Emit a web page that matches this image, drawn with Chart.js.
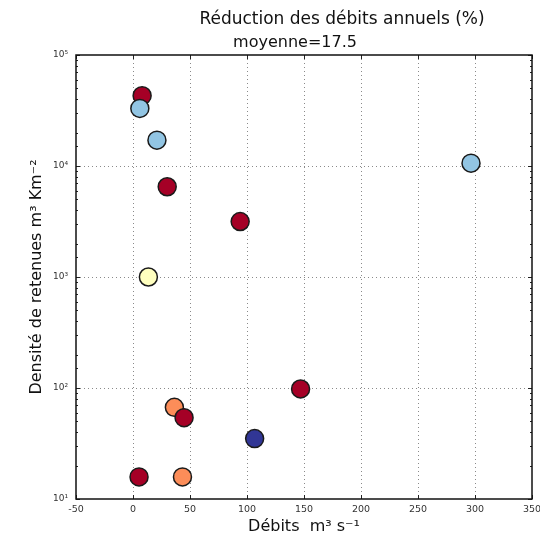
<!DOCTYPE html>
<html><head><meta charset="utf-8">
<script src="https://cdn.jsdelivr.net/npm/chart.js@4"></script>
<style>html,body{margin:0;padding:0;background:#fff}#c{display:block}</style>
</head><body>
<canvas id="c" width="540" height="538"></canvas>
<script>
// ---- data ----
const debits    = [8, 6, 21, 30, 94, 13.5, 296.5, 147, 36.3, 44.8, 106.7, 5.3, 43.4];
const densites  = [43000, 33000, 17100, 6500, 3160, 1000, 10600, 98, 67, 54, 35, 15.8, 15.8];
const xTickValues = [-50, 0, 50, 100, 150, 200, 250, 300, 350];
const yTickLabels = ['10\u00B9', '10\u00B2', '10\u00B3', '10\u2074', '10\u2075'];
const titleLines = ['Réduction des débits annuels (%)', 'moyenne=17.5'];
const xLabel = 'Débits  m\u00B3 s\u207B\u00B9';
const yLabel = 'Densité de retenues m\u00B3 Km\u207B\u00B2';

// ---- styles ----
const pointColors = ['#a50026', '#92c5e3', '#92c5e3', '#a50026', '#a50026', '#ffffbf', '#92c5e3',
                     '#a50026', '#fc8d59', '#a50026', '#313695', '#a50026', '#fc8d59'];
const FONT = '"DejaVu Sans", sans-serif';

function isMajor(v) {
  const l = Math.log10(v);
  return Math.abs(l - Math.round(l)) < 1e-9;
}

const decor = {
  id: 'decor',
  afterDraw(chart) {
    const ctx = chart.ctx, a = chart.chartArea;
    const xs = chart.scales.x, ys = chart.scales.y;
    ctx.save();
    // inward ticks
    ctx.strokeStyle = '#222';
    ctx.lineWidth = 1;
    ctx.beginPath();
    xs.ticks.forEach(t => {
      const px = Math.round(xs.getPixelForValue(t.value)) + 0.5;
      ctx.moveTo(px, a.bottom); ctx.lineTo(px, a.bottom - 4);
      ctx.moveTo(px, a.top); ctx.lineTo(px, a.top + 4);
    });
    ys.ticks.forEach(t => {
      const py = Math.round(ys.getPixelForValue(t.value)) + 0.5;
      const len = isMajor(t.value) ? 4 : 2;
      ctx.moveTo(a.left, py); ctx.lineTo(a.left + len, py);
      ctx.moveTo(a.right, py); ctx.lineTo(a.right - len, py);
    });
    ctx.stroke();
    // frame
    ctx.lineWidth = 1.5;
    ctx.strokeStyle = '#111';
    ctx.strokeRect(a.left, a.top, a.right - a.left, a.bottom - a.top);
    // titles
    ctx.fillStyle = '#111';
    ctx.textAlign = 'center';
    ctx.textBaseline = 'middle';
    ctx.font = '17px ' + FONT;
    ctx.fillText(titleLines[0], 342, 20);
    ctx.font = '16px ' + FONT;
    ctx.fillText(titleLines[1], 295, 43);
    // axis labels
    ctx.font = '16px ' + FONT;
    ctx.fillText(xLabel, 304, 527);
    ctx.translate(37, (a.top + a.bottom) / 2);
    ctx.rotate(-Math.PI / 2);
    ctx.fillText(yLabel, 0, 0);
    ctx.restore();
  }
};

new Chart(document.getElementById('c'), {
  type: 'scatter',
  data: {
    datasets: [{
      data: debits.map((d, i) => ({ x: d, y: densites[i] })),
      backgroundColor: pointColors,
      borderColor: '#1a1a1a',
      borderWidth: 1.5,
      pointRadius: 9,
      pointHoverRadius: 9
    }]
  },
  options: {
    responsive: false,
    animation: false,
    devicePixelRatio: 1,
    layout: { autoPadding: false, padding: { top: 55, right: 8, left: 0, bottom: 0 } },
    plugins: { legend: { display: false }, tooltip: { enabled: false }, title: { display: false } },
    scales: {
      x: {
        type: 'linear',
        min: xTickValues[0], max: xTickValues[xTickValues.length - 1],
        afterFit(s) { s.height = 39; s.paddingLeft = 0; s.paddingRight = 0; },
        afterBuildTicks(s) { s.ticks = xTickValues.map(v => ({ value: v })); },
        ticks: { color: '#333', font: { family: FONT, size: 9.5 }, padding: 5, maxRotation: 0, autoSkip: false,
                 callback: v => String(v) },
        grid: {
          drawTicks: false, tickLength: 0, lineWidth: 1,
          color: c => (c.tick && c.tick.value > xTickValues[0] && c.tick.value < xTickValues[xTickValues.length - 1]) ? '#8a8a8a' : 'rgba(0,0,0,0)'
        },
        border: { display: false, dash: [1, 3] }
      },
      y: {
        type: 'logarithmic',
        min: 10, max: 100000,
        afterFit(s) { s.width = 76; s.paddingTop = 0; s.paddingBottom = 0; },
        ticks: { color: '#333', font: { family: FONT, size: 9 }, padding: 8, autoSkip: false,
                 callback: v => isMajor(v) ? yTickLabels[Math.round(Math.log10(v)) - 1] : '' },
        grid: {
          drawTicks: false, tickLength: 0, lineWidth: 1,
          color: c => (c.tick && isMajor(c.tick.value) && c.tick.value > 10 && c.tick.value < 100000) ? '#8a8a8a' : 'rgba(0,0,0,0)'
        },
        border: { display: false, dash: [1, 3] }
      }
    }
  },
  plugins: [decor]
});
</script>
</body></html>
